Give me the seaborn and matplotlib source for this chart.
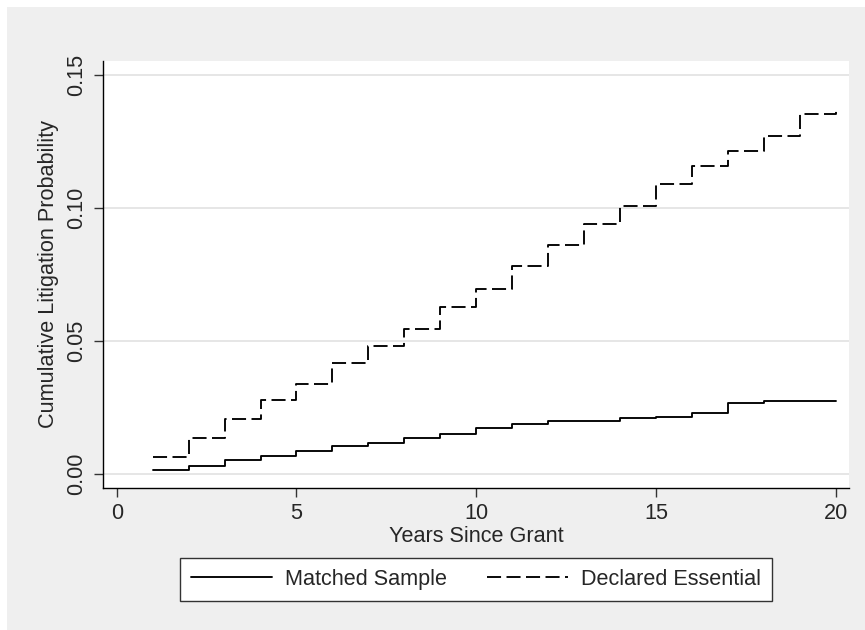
import pandas as pd
import matplotlib
matplotlib.use("Agg")
import matplotlib.pyplot as plt
import seaborn as sns
from matplotlib.patches import Rectangle

# values
years = list(range(1, 21))
matched = [0.0016, 0.0030, 0.0052, 0.0068, 0.0087, 0.0105, 0.0117, 0.0134, 0.0152, 0.0174,
           0.0190, 0.0199, 0.0200, 0.0210, 0.0216, 0.0231, 0.0266, 0.0275, 0.0276, 0.0276]
declared = [0.0066, 0.0137, 0.0208, 0.0278, 0.0338, 0.0416, 0.0482, 0.0545, 0.0626, 0.0697,
            0.0780, 0.0862, 0.0941, 0.1008, 0.1091, 0.1159, 0.1214, 0.1271, 0.1353, 0.1367]
groups = ["Matched Sample", "Declared Essential"]
x_ticks = [0, 5, 10, 15, 20]
y_ticks = [0.00, 0.05, 0.10, 0.15]

df = pd.concat([
    pd.DataFrame({"Years": years, "Prob": matched, "Group": groups[0]}),
    pd.DataFrame({"Years": years, "Prob": declared, "Group": groups[1]}),
])

sns.set_style("white")
plt.rcParams["font.family"] = ["Liberation Sans", "DejaVu Sans"]
fs = 15.6

fig = plt.figure(figsize=(8.65, 6.3), dpi=100, facecolor="#efefef")
# thin white strips on the left and top edges, as in the reference
fig.patches.append(Rectangle((0, 0), 7 / 865, 1, transform=fig.transFigure,
                             facecolor="white", edgecolor="none", zorder=-10))
fig.patches.append(Rectangle((0, 1 - 7 / 630), 1, 7 / 630, transform=fig.transFigure,
                             facecolor="white", edgecolor="none", zorder=-10))

ax = fig.add_axes([102.7 / 865, 1 - 488 / 630, (849.3 - 102.7) / 865, (488 - 60.7) / 630])
ax.set_facecolor("white")

sns.lineplot(data=df, x="Years", y="Prob", style="Group", style_order=groups,
             dashes={groups[0]: "", groups[1]: (7.5, 2.9)},
             color="black", linewidth=1.35, drawstyle="steps-post",
             errorbar=None, legend=False, ax=ax)

ax.set_xlim(-0.39, 20.38)
ax.set_ylim(-0.0052, 0.1553)
ax.set_xticks(x_ticks)
ax.set_yticks(y_ticks)
ax.set_yticklabels([f"{v:.2f}" for v in y_ticks], rotation=90, va="center")
ax.yaxis.grid(True, color="#e6e6e6", linewidth=1.4)
ax.set_axisbelow(True)

for s in ["top", "right"]:
    ax.spines[s].set_visible(False)
for s in ["left", "bottom"]:
    ax.spines[s].set_color("black")
    ax.spines[s].set_linewidth(1.0)

ax.tick_params(axis="both", direction="out", length=6.5, width=1.0, color="#333333",
               labelsize=fs, pad=4.5, bottom=True, left=True)
ax.set_xlabel("Years Since Grant", fontsize=fs, labelpad=1)
ax.set_ylabel("Cumulative Litigation Probability", fontsize=fs, labelpad=5)

leg = fig.legend(handles=ax.lines[:2], labels=groups, loc="center", ncol=2,
                 bbox_to_anchor=(476 / 865, 1 - 579.5 / 630), fontsize=fs,
                 frameon=True, fancybox=False, framealpha=1, edgecolor="#333333",
                 handlelength=3.75, handletextpad=0.6, columnspacing=1.85,
                 borderpad=0.5, borderaxespad=0)
leg.get_frame().set_linewidth(1.0)

fig.savefig("out.png", dpi=100, facecolor=fig.get_facecolor())
